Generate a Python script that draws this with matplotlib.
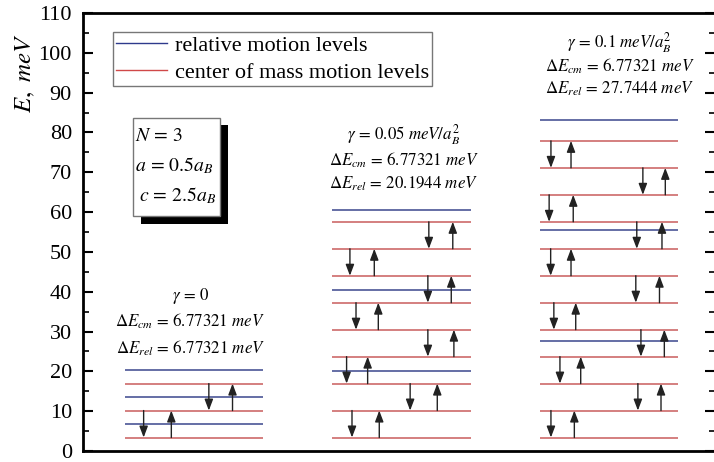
import matplotlib.pyplot as plt
from matplotlib.patches import Rectangle
from matplotlib.lines import Line2D
from matplotlib.ticker import MultipleLocator

plt.rcParams['font.family'] = 'serif'
plt.rcParams['font.serif'] = ['Liberation Serif', 'DejaVu Serif']
plt.rcParams['mathtext.fontset'] = 'stix'

# energy levels, meV
cm_levels = [3.39, 10.16, 16.93, 23.70, 30.47, 37.25, 44.02, 50.79,
             57.56, 64.34, 71.11, 77.89]
n_cm_shown = [3, 9, 12]
rel_levels_g0 = [6.77, 13.55, 20.32]
rel_levels_g1 = [20.19, 40.39, 60.58]
rel_levels_g2 = [27.74, 55.49, 83.23]
rel_levels = [rel_levels_g0, rel_levels_g1, rel_levels_g2]

gamma_text = [r'$\gamma\,=\,0$', r'$\gamma\,=\,0.05\ meV/a_B^2$', r'$\gamma\,=\,0.1\ meV/a_B^2$']
dE_cm = ['6.77321', '6.77321', '6.77321']
dE_rel = ['6.77321', '20.1944', '27.7444']

# horizontal places of the transition arrows (fraction of panel width)
down_x = [[0.138, 0.609],
          [0.143, 0.563, 0.104, 0.691, 0.172, 0.691, 0.128, 0.698],
          [0.080, 0.708, 0.145, 0.730, 0.101, 0.693, 0.078, 0.700, 0.067, 0.744, 0.080]]
up_x = [[0.338, 0.780],
        [0.340, 0.759, 0.256, 0.879, 0.333, 0.860, 0.304, 0.871],
        [0.249, 0.875, 0.295, 0.899, 0.259, 0.864, 0.225, 0.882, 0.241, 0.906, 0.225]]

centers = [1.6, 4.6, 7.6]
width = 2.0
red = '#cd6a6a'
blue = '#4a5596'

fig = plt.figure(figsize=(7.14, 4.62), dpi=100)
ax = fig.add_axes([83 / 714, 11 / 462, 632 / 714, 438 / 462])
ax.set_xlim(0, 9.13)
ax.set_ylim(0, 110)

arrow = dict(arrowstyle='-|>,head_length=0.45,head_width=0.17', mutation_scale=15,
             color='#222222', lw=1.0, shrinkA=0, shrinkB=0)

for i in range(3):
    left = centers[i] - width / 2
    for e in cm_levels[:n_cm_shown[i]]:
        ax.hlines(e, left, left + width, color=red, lw=1.2)
    for e in rel_levels[i]:
        ax.hlines(e, left, left + width, color=blue, lw=1.2)
    for k, (xd, xu) in enumerate(zip(down_x[i], up_x[i])):
        lo, hi = cm_levels[k], cm_levels[k + 1]
        ax.annotate('', xy=(left + xd * width, lo), xytext=(left + xd * width, hi),
                    arrowprops=arrow)
        ax.annotate('', xy=(left + xu * width, hi), xytext=(left + xu * width, lo),
                    arrowprops=arrow)

# panel captions
caption_x = [1.55, 4.63, 7.75]
caption_y = [[39.0, 32.5, 25.8], [79.5, 73.0, 67.0], [102.5, 96.5, 91.0]]
for i in range(3):
    ax.text(caption_x[i], caption_y[i][0], gamma_text[i], ha='center', va='center', fontsize=12.2)
    ax.text(caption_x[i], caption_y[i][1], r'$\Delta E_{cm}\,=\,%s\ meV$' % dE_cm[i],
            ha='center', va='center', fontsize=12.2)
    ax.text(caption_x[i], caption_y[i][2], r'$\Delta E_{rel}\,=\,%s\ meV$' % dE_rel[i],
            ha='center', va='center', fontsize=12.2)

# parameter box with shadow
ax.add_patch(Rectangle((0.835, 57.0), 1.26, 24.75, facecolor='black', edgecolor='none', zorder=3))
ax.add_patch(Rectangle((0.72, 59.0), 1.26, 24.75, facecolor='white', edgecolor='#777777',
                       lw=1.0, zorder=4))
ax.text(0.75, 79.0, r'$N\,=\,3$', fontsize=14.2, va='center', zorder=5)
ax.text(0.75, 71.5, r'$a\,=\,\mathit{0.5}a_B$', fontsize=14.2, va='center', zorder=5)
ax.text(0.81, 64.0, r'$c\,=\,\mathit{2.5}a_B$', fontsize=14.2, va='center', zorder=5)

handles = [Line2D([], [], color='#2e3a8c', lw=1.0),
           Line2D([], [], color='#d04848', lw=1.0)]
leg = ax.legend(handles, ['relative motion levels', 'center of mass motion levels'],
                loc='upper left', bbox_to_anchor=(0.0475, 0.9575), borderaxespad=0,
                fontsize=16, handlelength=2.3, handletextpad=0.33, borderpad=0.15,
                labelspacing=0.3, fancybox=False, framealpha=1)
leg.get_frame().set_edgecolor('#777777')
leg.get_frame().set_linewidth(1.0)

for s in ax.spines.values():
    s.set_linewidth(2.0)
ax.set_xticks([])
ax.yaxis.set_major_locator(MultipleLocator(10))
ax.yaxis.set_minor_locator(MultipleLocator(5))
ax.tick_params(axis='y', which='both', direction='in', left=True, right=True, labelsize=16, pad=8)
ax.tick_params(axis='y', which='major', length=7, width=1.5)
ax.tick_params(axis='y', which='minor', length=4, width=1.2)

fig.text(25 / 714, 1 - 73 / 462, r'$E,\ meV$', rotation=90, ha='center', va='center', fontsize=18)

fig.savefig('out.png', dpi=100)
